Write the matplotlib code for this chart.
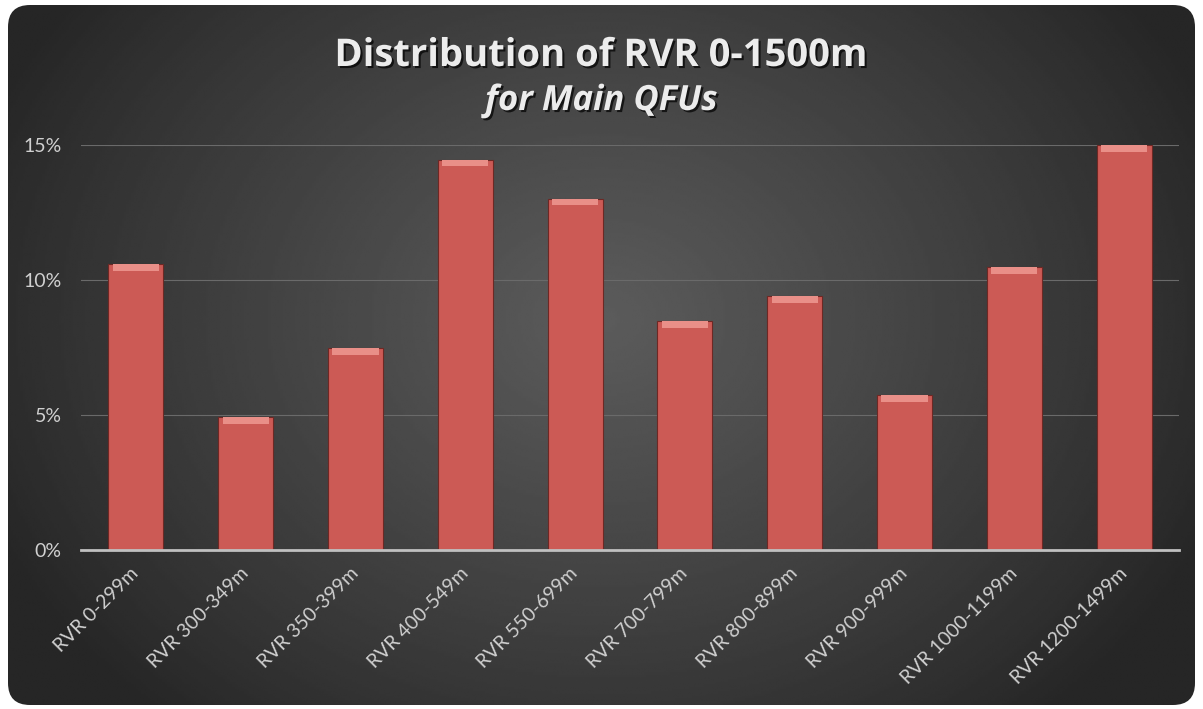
import numpy as np
import matplotlib.pyplot as plt
from matplotlib.patches import FancyBboxPatch
import matplotlib.patheffects as pe

plt.rcParams['font.family'] = ['Lato', 'DejaVu Sans']

# data (percent)
categories = ["RVR 0-299m", "RVR 300-349m", "RVR 350-399m", "RVR 400-549m",
              "RVR 550-699m", "RVR 700-799m", "RVR 800-899m", "RVR 900-999m",
              "RVR 1000-1199m", "RVR 1200-1499m"]
values = [10.58, 4.91, 7.47, 14.46, 13.01, 8.48, 9.41, 5.73, 10.49, 15.0]
y_ticks = [0, 5, 10, 15]
y_tick_labels = ["0%", "5%", "10%", "15%"]

W, H = 1203, 709
fig = plt.figure(figsize=(W / 100, H / 100), dpi=100)
fig.patch.set_facecolor('white')

# dark rounded background with a soft radial light
bg = fig.add_axes([0, 0, 1, 1])
bg.set_xlim(0, W)
bg.set_ylim(0, H)
bg.axis('off')
yy, xx = np.mgrid[0:H:300j, 0:W:500j]
r = np.sqrt(((xx - 0.5 * W) / (0.55 * W)) ** 2 + ((yy - 0.55 * H) / (0.75 * H)) ** 2)
shade = np.clip(1 - r, 0, 1) ** 0.9
img = 0.15 + 0.21 * shade
im = bg.imshow(img, cmap='gray', vmin=0, vmax=1, extent=[0, W, 0, H],
               origin='lower', aspect='auto', interpolation='bilinear')
box = FancyBboxPatch((8, 4), W - 16, H - 9, boxstyle='round,pad=0,rounding_size=22',
                     facecolor='none', edgecolor='none', transform=bg.transData)
bg.add_patch(box)
im.set_clip_path(box)

# main plot area
ax = fig.add_axes([81 / W, 159 / H, (1179 - 81) / W, (550 - 145) / H])
ax.patch.set_alpha(0)
x = np.arange(len(categories))
ax.bar(x, values, width=0.5, color='#cc5a55', edgecolor='#6e2824', linewidth=0.8, zorder=3)
bevel = 0.25
ax.bar(x, [bevel] * len(values), bottom=np.array(values) - bevel, width=0.42,
       color='#e98f88', linewidth=0, zorder=4)

ax.set_xlim(-0.5, len(categories) - 0.5)
ax.set_ylim(0, 15)
ax.set_yticks(y_ticks)
ax.set_yticklabels(y_tick_labels)
ax.yaxis.grid(True, color='#6a6a6a', linewidth=0.8)
ax.set_axisbelow(True)
for s in ['left', 'right', 'top']:
    ax.spines[s].set_visible(False)
ax.spines['bottom'].set_color('#c0c0c0')
ax.spines['bottom'].set_linewidth(2)
ax.spines['bottom'].set_zorder(5)

ax.set_xticks(x)
ax.set_xticklabels(categories, rotation=45, ha='right', va='center', rotation_mode='anchor')
ax.tick_params(axis='x', length=0, pad=15, labelsize=14, labelcolor='#d0d0d0')
ax.tick_params(axis='y', length=0, pad=14, labelsize=14, labelcolor='#d0d0d0')

shadow = [pe.withSimplePatchShadow(offset=(1.5, -1.5), shadow_rgbFace='black', alpha=0.7)]
fig.text(0.5, 1 - 66 / H, "Distribution of RVR 0-1500m", ha='center', va='baseline',
         fontsize=27.5, fontweight='bold', color='#ececec', family=['Open Sans', 'DejaVu Sans'],
         path_effects=shadow)
fig.text(0.5, 1 - 110 / H, "for Main QFUs", ha='center', va='baseline',
         fontsize=25, fontweight='bold', fontstyle='italic', color='#ececec',
         family=['Open Sans', 'DejaVu Sans'], path_effects=shadow)

fig.savefig('out.png', dpi=100, facecolor='white')
